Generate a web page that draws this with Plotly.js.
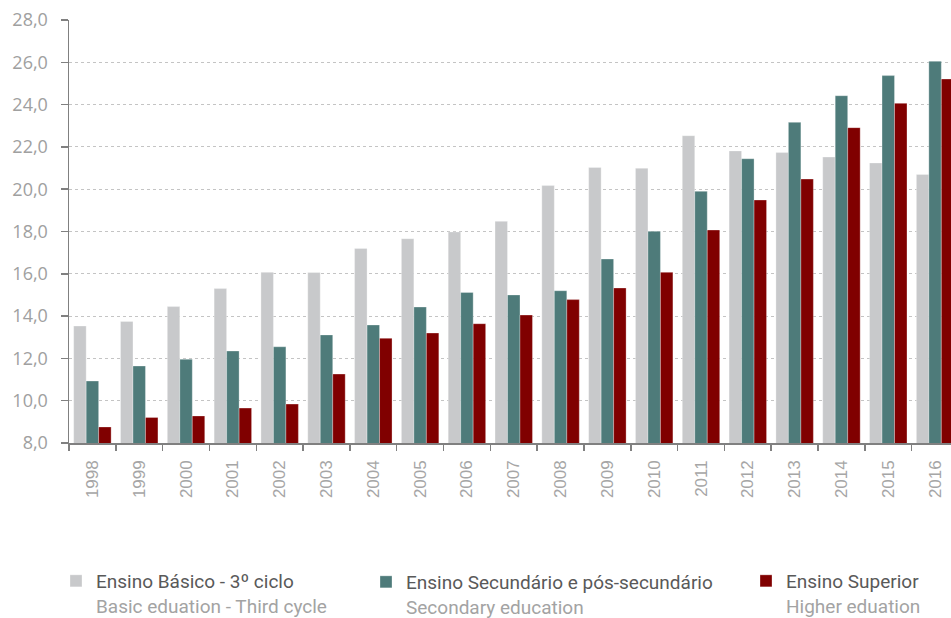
<!DOCTYPE html>
<html>
<head>
<meta charset="utf-8">
<script src="https://cdn.plot.ly/plotly-3.0.1.min.js"></script>
<style>html,body{margin:0;padding:0;background:#fff;}#chart{width:951px;height:618px;}</style>
</head>
<body>
<div id="chart"></div>
<script>
const years = ["1998","1999","2000","2001","2002","2003","2004","2005","2006","2007","2008","2009","2010","2011","2012","2013","2014","2015","2016"];
const basico = [13.53,13.75,14.45,15.30,16.07,16.06,17.20,17.66,17.98,18.48,20.17,21.03,20.99,22.53,21.81,21.73,21.52,21.24,20.70];
const secundario = [10.93,11.64,11.96,12.35,12.55,13.11,13.58,14.43,15.12,15.00,15.20,16.70,18.01,19.90,21.44,23.16,24.42,25.37,26.05];
const superior = [8.76,9.21,9.28,9.65,9.84,11.26,12.95,13.20,13.64,14.05,14.78,15.33,16.07,18.07,19.49,20.48,22.91,24.06,25.21];
const names = [
  "Ensino Básico - 3º ciclo<br><span style='color:#a3a3a3'>Basic eduation - Third cycle</span>",
  "Ensino Secundário e pós-secundário<br><span style='color:#a3a3a3'>Secondary education</span>",
  "Ensino Superior<br><span style='color:#a3a3a3'>Higher eduation</span>"
];
const yTicks = [8,10,12,14,16,18,20,22,24,26,28];

const colors = ["#C8C9CB", "#4E7B7A", "#800000"];
const series = [basico, secundario, superior];
const legends = ["legend", "legend2", "legend3"];

const traces = series.map((vals, i) => ({
  type: "bar",
  x: years,
  y: vals,
  name: names[i],
  legend: legends[i],
  marker: {color: colors[i], line: {width: 0.6, color: "rgba(255,255,255,0.5)"}},
  hoverinfo: "x+y"
}));

const legendFont = {family: "Roboto, 'Noto Sans', sans-serif", size: 19, color: "#595959"};
function leg(px, py) {
  return {
    xref: "container", yref: "container",
    x: px / 951, y: 1 - py / 618,
    xanchor: "left", yanchor: "top",
    orientation: "h", valign: "top",
    font: legendFont, bgcolor: "rgba(0,0,0,0)", borderwidth: 0
  };
}

const layout = {
  width: 951, height: 618,
  margin: {l: 69, r: 0, t: 20, b: 175},
  paper_bgcolor: "#fff", plot_bgcolor: "#fff",
  separators: ",.",
  barmode: "group",
  bargap: 0.2, bargroupgap: 0,
  showlegend: true,
  legend: leg(56, 562),
  legend2: leg(366, 563),
  legend3: leg(746, 562),
  xaxis: {
    type: "category",
    range: [-0.5, 18.34],
    showline: true, linecolor: "#808080", linewidth: 1.5,
    ticks: "outside", ticklen: 6, tickcolor: "#808080", tickwidth: 1.5,
    tickson: "boundaries",
    tickangle: -90,
    ticklabelstandoff: 9,
    tickfont: {family: "'Liberation Sans', Arial, sans-serif", size: 17, color: "#a6a6a6"},
    showgrid: false, zeroline: false
  },
  yaxis: {
    range: [8, 28],
    tickvals: yTicks,
    tickformat: ".1f",
    showline: true, linecolor: "#808080", linewidth: 1.5,
    ticks: "outside", ticklen: 7, tickcolor: "#808080", tickwidth: 1.5,
    ticklabelstandoff: 9,
    tickfont: {family: "'Open Sans', 'Noto Sans', sans-serif", size: 18, color: "#a0a0a0"},
    showgrid: true, gridcolor: "#c4c4c4", griddash: "dot", gridwidth: 1,
    zeroline: false
  }
};

Plotly.newPlot("chart", traces, layout, {displayModeBar: false, staticPlot: true});
</script>
</body>
</html>
